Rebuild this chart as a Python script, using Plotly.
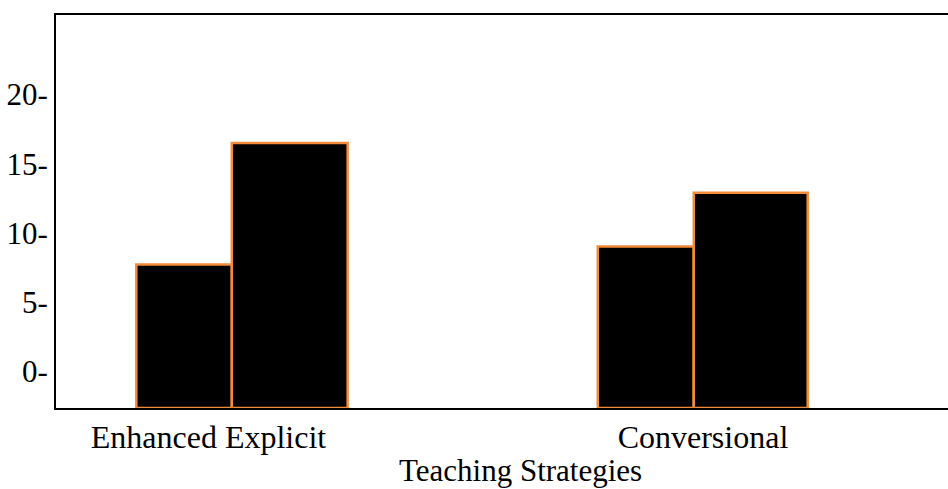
import plotly.graph_objects as go

categories = ["Enhanced Explicit", "Conversional"]
series_a = [7.7, 9.0]
series_b = [16.5, 12.9]
tick_vals = [0, 5, 10, 15, 20]
tick_text = ["0-", "5-", "10-", "15-", "20-"]

y_min, y_max = -2.68, 25.76
FONT = "Liberation Serif, Times New Roman, serif"

x_pos = list(range(len(categories)))
label_shift = [-0.0715, 0.0]  # label placement relative to group centre

fig = go.Figure()
fig.add_trace(go.Bar(
    x=x_pos, y=[v - y_min for v in series_a], base=y_min,
    width=[0.207, 0.208], offset=[-0.228, -0.228],
    marker=dict(color="black", line=dict(color="#f28c3a", width=2.5)),
    showlegend=False, hoverinfo="skip"))
fig.add_trace(go.Bar(
    x=x_pos, y=[v - y_min for v in series_b], base=y_min,
    width=[0.251, 0.247], offset=[-0.021, -0.02],
    marker=dict(color="black", line=dict(color="#f28c3a", width=2.5)),
    showlegend=False, hoverinfo="skip"))

fig.update_layout(
    width=948, height=489,
    margin=dict(l=56, r=0, t=15, b=81),
    paper_bgcolor="white", plot_bgcolor="white",
    font=dict(family=FONT, color="black", size=31),
    barmode="overlay",
    xaxis=dict(
        type="linear", range=[-0.402, 1.531],
        tickvals=[p + s for p, s in zip(x_pos, label_shift)], ticktext=categories,
        showline=True, linecolor="black", linewidth=2, mirror=True,
        showgrid=False, ticks="", zeroline=False,
        tickfont=dict(size=32, family=FONT),
    ),
    yaxis=dict(
        range=[y_min, y_max], tickvals=tick_vals, ticktext=tick_text,
        showline=True, linecolor="black", linewidth=2,
        showgrid=False, ticks="", zeroline=False,
        tickfont=dict(size=31, family=FONT), ticklabelstandoff=0,
    ),
    annotations=[dict(
        text="Teaching Strategies", xref="paper", yref="paper",
        x=0.5213, y=-0.16, xanchor="center", yanchor="middle",
        showarrow=False, font=dict(size=31, family=FONT))],
)

fig.write_html(
    "out.html",
    config={"displayModeBar": False},
    post_script="document.body.style.margin='0';document.body.style.overflow='hidden';",
)
